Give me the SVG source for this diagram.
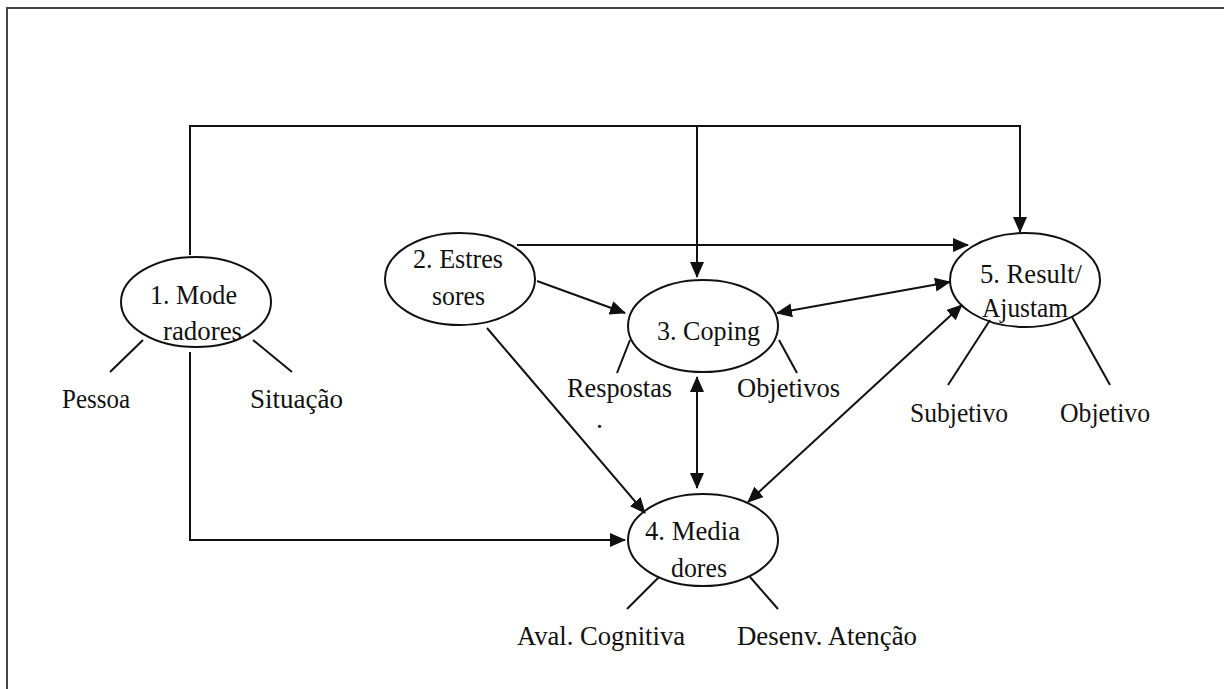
<svg xmlns="http://www.w3.org/2000/svg" width="1224" height="689" viewBox="0 0 1224 689">
<style>
.node ellipse{fill:none;stroke:#111;stroke-width:2}
.lbl{font-family:"Liberation Serif","Times New Roman",serif;font-size:28px;fill:#111}
.conn path{fill:none;stroke:#111;stroke-width:2}
.tie{stroke:#111;stroke-width:2;fill:none}
</style>
<defs>
<marker id="ah" markerUnits="userSpaceOnUse" markerWidth="16" markerHeight="14" refX="15" refY="7" orient="auto-start-reverse" viewBox="0 0 16 14">
<path d="M0,0 L16,7 L0,14 Z" fill="#111"/>
</marker>
</defs>
<rect width="1224" height="689" fill="#fff"/>
<path d="M7,689 V8 H1224" fill="none" stroke="#444" stroke-width="2"/>
<g class="conn" id="connectors">
<path d="M190,255 V126 H1020 V232" marker-end="url(#ah)"/>
<path d="M697,126 V277" marker-end="url(#ah)"/>
<path d="M190,352 V540 H625" marker-end="url(#ah)"/>
<path d="M517,245 H968" marker-end="url(#ah)"/>
<path d="M537,281 L625,313" marker-end="url(#ah)"/>
<path d="M487,328 L645,513" marker-end="url(#ah)"/>
<path d="M777,313 L950,282" marker-start="url(#ah)" marker-end="url(#ah)"/>
<path d="M697,377 L697,488" marker-start="url(#ah)" marker-end="url(#ah)"/>
<path d="M748,502 L962,305" marker-start="url(#ah)" marker-end="url(#ah)"/>
</g>
<g id="node1" class="node">
<ellipse cx="196" cy="302" rx="75" ry="45"/>
<text class="lbl" x="150" y="304" textLength="87" lengthAdjust="spacingAndGlyphs">1. Mode</text>
<text class="lbl" x="163" y="340" textLength="79" lengthAdjust="spacingAndGlyphs">radores</text>
<line class="tie" x1="143" y1="340" x2="110" y2="372"/>
<line class="tie" x1="253" y1="340" x2="292" y2="372"/>
<text class="lbl" x="62" y="408" textLength="68" lengthAdjust="spacingAndGlyphs">Pessoa</text>
<text class="lbl" x="250" y="408" textLength="93" lengthAdjust="spacingAndGlyphs">Situação</text>
</g>
<g id="node2" class="node">
<ellipse cx="460" cy="279" rx="75" ry="46"/>
<text class="lbl" x="413" y="268" textLength="90" lengthAdjust="spacingAndGlyphs">2. Estres</text>
<text class="lbl" x="432" y="305" textLength="53" lengthAdjust="spacingAndGlyphs">sores</text>
</g>
<g id="node3" class="node">
<ellipse cx="703" cy="326" rx="75" ry="46"/>
<text class="lbl" x="657" y="340" textLength="103" lengthAdjust="spacingAndGlyphs">3. Coping</text>
<line class="tie" x1="630" y1="340" x2="617" y2="373"/>
<line class="tie" x1="779" y1="340" x2="797" y2="373"/>
<text class="lbl" x="567" y="397" textLength="105" lengthAdjust="spacingAndGlyphs">Respostas</text>
<text class="lbl" x="596" y="428">.</text>
<text class="lbl" x="737" y="397" textLength="103" lengthAdjust="spacingAndGlyphs">Objetivos</text>
</g>
<g id="node4" class="node">
<ellipse cx="703" cy="540" rx="75" ry="46"/>
<text class="lbl" x="645" y="540" textLength="95" lengthAdjust="spacingAndGlyphs">4. Media</text>
<text class="lbl" x="671" y="577" textLength="56" lengthAdjust="spacingAndGlyphs">dores</text>
<line class="tie" x1="659" y1="577" x2="627" y2="609"/>
<line class="tie" x1="750" y1="577" x2="778" y2="609"/>
<text class="lbl" x="517" y="645" textLength="168" lengthAdjust="spacingAndGlyphs">Aval. Cognitiva</text>
<text class="lbl" x="737" y="645" textLength="180" lengthAdjust="spacingAndGlyphs">Desenv. Atenção</text>
</g>
<g id="node5" class="node">
<ellipse cx="1025" cy="280" rx="75" ry="47"/>
<text class="lbl" x="980" y="283" textLength="102" lengthAdjust="spacingAndGlyphs">5. Result/</text>
<text class="lbl" x="982" y="317" textLength="86" lengthAdjust="spacingAndGlyphs">Ajustam</text>
<line class="tie" x1="990" y1="320" x2="948" y2="385"/>
<line class="tie" x1="1072" y1="317" x2="1110" y2="385"/>
<text class="lbl" x="910" y="422" textLength="98" lengthAdjust="spacingAndGlyphs">Subjetivo</text>
<text class="lbl" x="1060" y="422" textLength="90" lengthAdjust="spacingAndGlyphs">Objetivo</text>
</g>
</svg>
